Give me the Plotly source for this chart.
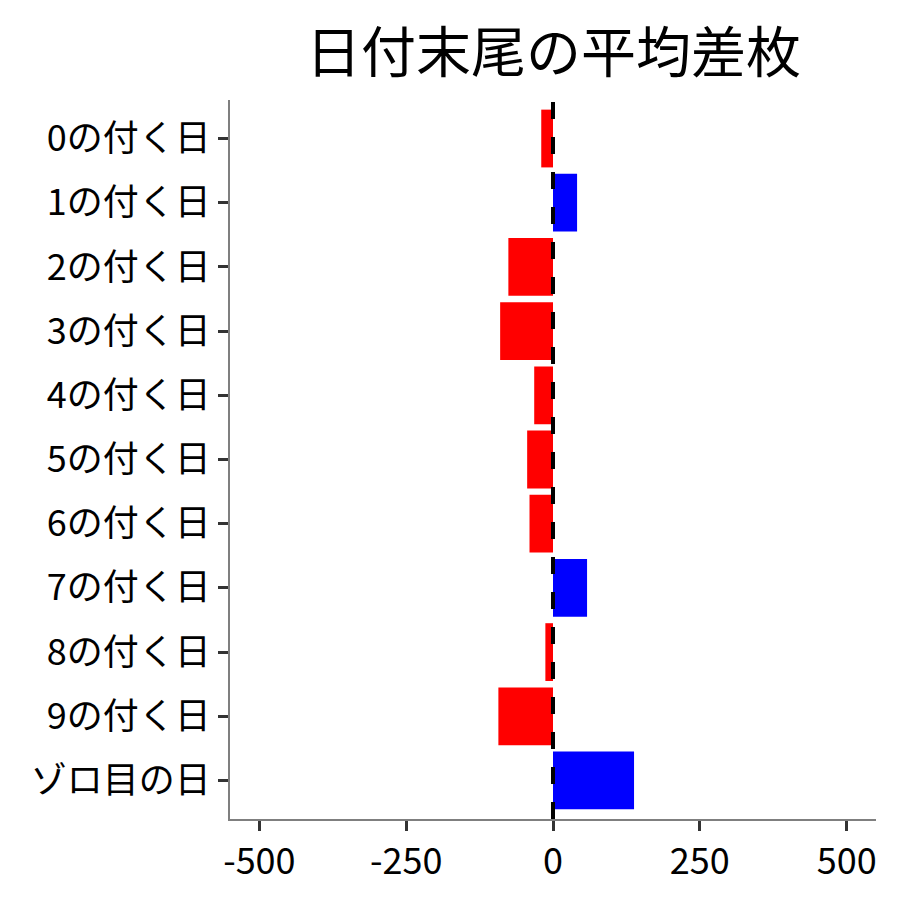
import plotly.graph_objects as go

categories = ["0の付く日", "1の付く日", "2の付く日", "3の付く日", "4の付く日",
              "5の付く日", "6の付く日", "7の付く日", "8の付く日", "9の付く日", "ゾロ目の日"]
values = [-20, 41, -76, -90, -32, -44, -40, 58, -13, -93, 138]
x_ticks = [-500, -250, 0, 250, 500]
title_text = "日付末尾の平均差枚"

colors = ["#0000FF" if v > 0 else "#FF0000" for v in values]

font_family = "Noto Sans CJK JP"

fig = go.Figure()
fig.add_trace(go.Bar(
    x=values, y=categories, orientation="h",
    marker=dict(color=colors, line=dict(width=0)),
    showlegend=False,
))

fig.add_shape(type="line", xref="x", yref="paper", x0=0, x1=0, y0=0, y1=1,
              line=dict(color="black", width=4, dash="17px,18px"), layer="above")

fig.add_annotation(text=title_text, xref="paper", yref="paper", x=0.5, y=1.0,
                   xanchor="center", yanchor="bottom", yshift=10, showarrow=False,
                   font=dict(size=55, family=font_family, color="black"))

fig.update_layout(
    width=900, height=900,
    paper_bgcolor="white", plot_bgcolor="white",
    margin=dict(l=222, r=32, t=92, b=89),
    bargap=0.1,
    font=dict(family=font_family, color="black"),
    xaxis=dict(range=[-550, 550], tickvals=x_ticks, ticktext=[str(t) for t in x_ticks],
               showgrid=False, zeroline=False, showline=True, linecolor="#7f7f7f", linewidth=2,
               ticks="outside", ticklen=10, tickwidth=3, tickcolor="#333333",
               tickfont=dict(size=36, family=font_family, color="black")),
    yaxis=dict(categoryorder="array", categoryarray=categories, range=[10.6, -0.6],
               showgrid=False, zeroline=False, showline=True, linecolor="#7f7f7f", linewidth=2,
               ticks="outside", ticklen=10, tickwidth=3, tickcolor="#333333",
               tickfont=dict(size=36, family=font_family, color="black")),
)

fig.write_html("out.html")
